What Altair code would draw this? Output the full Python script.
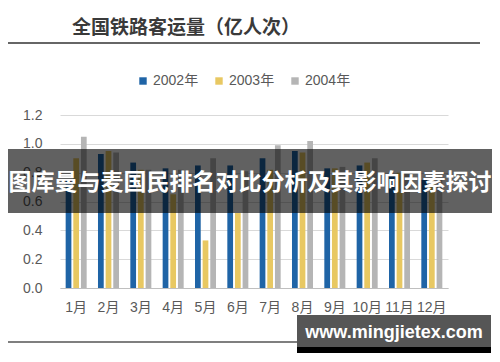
import altair as alt
import pandas as pd

months = ["1月", "2月", "3月", "4月", "5月", "6月", "7月", "8月", "9月", "10月", "11月", "12月"]
years = ["2002年", "2003年", "2004年"]
v2002 = [0.75, 0.93, 0.87, 0.83, 0.85, 0.85, 0.90, 0.95, 0.83, 0.85, 0.78, 0.75]
v2003 = [0.90, 0.95, 0.82, 0.65, 0.33, 0.52, 0.82, 0.94, 0.83, 0.87, 0.80, 0.72]
v2004 = [1.05, 0.94, 0.82, 0.82, 0.90, 0.81, 0.99, 1.02, 0.84, 0.90, 0.80, 0.75]
colors = ["#1f64a6", "#e8c862", "#b5b5b5"]
y_ticks = [0.0, 0.2, 0.4, 0.6, 0.8, 1.0, 1.2]

title_text = "全国铁路客运量（亿人次）"
banner_text = "图库曼与麦国民排名对比分析及其影响因素探讨"
watermark_text = "www.mingjietex.com"

rows = []
for yr, vals in zip(years, [v2002, v2003, v2004]):
    for m, v in zip(months, vals):
        rows.append({"month": m, "year": yr, "value": v})
df = pd.DataFrame(rows)

LAT = "Liberation Sans, Noto Sans CJK SC"
CJK = "Noto Sans CJK SC"

bars = alt.Chart(df).mark_bar().encode(
    x=alt.X("month:N", sort=months,
            scale=alt.Scale(paddingInner=0.35, paddingOuter=0.175),
            axis=alt.Axis(title=None, labelAngle=0, ticks=False, domain=True,
                          domainColor="#bfbfbf", labelFont=LAT, labelFontSize=14,
                          labelColor="#595959", labelPadding=12, grid=False)),
    xOffset=alt.XOffset("year:N", sort=years, scale=alt.Scale(paddingInner=0.25)),
    y=alt.Y("value:Q", scale=alt.Scale(domain=[0, 1.2], nice=False),
            axis=alt.Axis(title=None, values=y_ticks, format=".1f", ticks=False,
                          domain=False, gridColor="#d9d9d9", labelFont=LAT,
                          labelFontSize=14, labelColor="#595959", labelPadding=18)),
    color=alt.Color("year:N", sort=years,
                    scale=alt.Scale(domain=years, range=colors),
                    legend=alt.Legend(title=None, orient="none", direction="horizontal",
                                      legendX=76, legendY=-41, symbolType="square",
                                      symbolSize=55, symbolStrokeWidth=0,
                                      labelFont=LAT, labelFontSize=14,
                                      labelColor="#595959", labelOffset=3,
                                      columnPadding=13)),
)

one = pd.DataFrame({"t": [title_text]})
title = alt.Chart(one).mark_text(align="left", baseline="middle", font=CJK,
                                 fontSize=19, fontWeight="bold", color="#3a3a3a").encode(
    x=alt.value(12), y=alt.value(-87), text="t:N")

underline = alt.Chart(one).mark_rule(color="#333333", strokeWidth=1.5).encode(
    x=alt.value(-60), x2=alt.value(420), y=alt.value(-72))

banner_df = pd.DataFrame({"b": [banner_text]})
banner_rect = alt.Chart(banner_df).mark_rect(color="#000000", opacity=0.62).encode(
    x=alt.value(-60), x2=alt.value(440), y=alt.value(34), y2=alt.value(98))
banner = alt.Chart(banner_df).mark_text(align="center", baseline="middle", font=CJK,
                                        fontSize=23, fontWeight="bold", color="#ffffff").encode(
    x=alt.value(190), y=alt.value(68), text="b:N")

wm_df = pd.DataFrame({"w": [watermark_text]})
bottom_line = alt.Chart(wm_df).mark_rule(color="#555555", strokeWidth=1.5).encode(
    x=alt.value(-60), x2=alt.value(237), y=alt.value(227))
wm_rect = alt.Chart(wm_df).mark_rect(color="#4d4d4d", opacity=0.95).encode(
    x=alt.value(237), x2=alt.value(431), y=alt.value(200), y2=alt.value(232))
wm_strip = alt.Chart(wm_df).mark_rect(color="#000000").encode(
    x=alt.value(237), x2=alt.value(431), y=alt.value(232), y2=alt.value(238))
wm_text = alt.Chart(wm_df).mark_text(align="center", baseline="middle", font="Liberation Sans",
                                     fontSize=18, fontWeight="bold", color="#ffffff").encode(
    x=alt.value(334), y=alt.value(218), text="w:N")

chart = alt.layer(bars, title, underline, banner_rect, banner, bottom_line,
                  wm_rect, wm_strip, wm_text).properties(
    width=388, height=173,
    autosize=alt.AutoSizeParams(type="none"),
    padding={"left": 52, "top": 107, "right": 44, "bottom": 65},
).configure_view(stroke=None)

chart.save("out.html", embed_options={"renderer": "svg", "actions": False})
